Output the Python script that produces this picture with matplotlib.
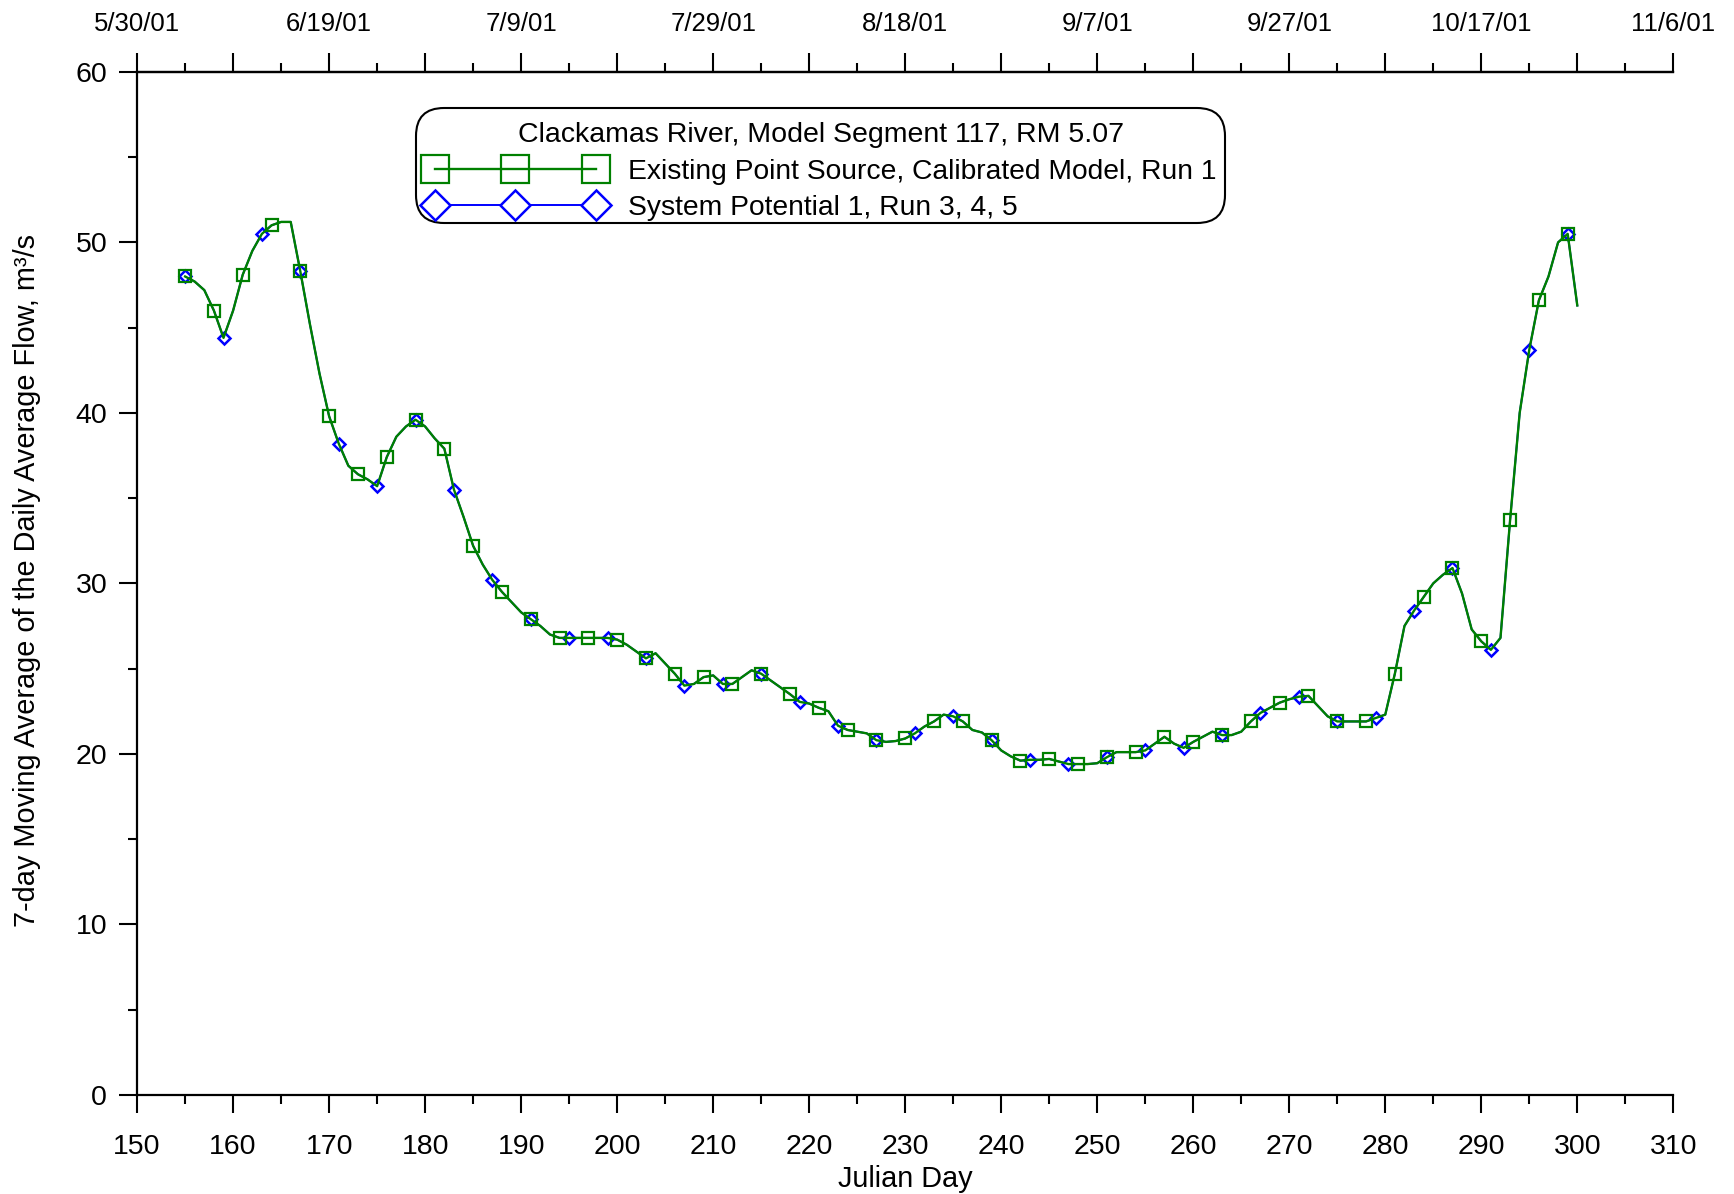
import matplotlib
matplotlib.use("Agg")
import matplotlib.pyplot as plt
from matplotlib.ticker import MultipleLocator, FixedLocator
from matplotlib.legend_handler import HandlerLine2D
from matplotlib.offsetbox import VPacker, HPacker, DrawingArea

plt.rcParams['font.family'] = ['Liberation Sans', 'DejaVu Sans']

# ---- data ----
julian_day = list(range(155, 301))

flow_existing = [
    48.0, 47.7, 47.2, 46.0, 44.4, 46.0, 48.1, 49.5, 50.5, 51.0,   # 155-164
    51.2, 51.2, 48.3, 45.2, 42.3, 39.8, 38.2, 36.9, 36.4, 36.1,   # 165-174
    35.7, 37.4, 38.6, 39.2, 39.6, 39.2, 38.5, 37.9, 35.5, 33.9,   # 175-184
    32.2, 31.1, 30.2, 29.5, 28.9, 28.3, 27.9, 27.5, 27.0, 26.8,   # 185-194
    26.8, 26.8, 26.8, 26.8, 26.8, 26.7, 26.4, 26.0, 25.6, 25.9,   # 195-204
    25.3, 24.7, 24.0, 24.1, 24.5, 24.6, 24.1, 24.1, 24.5, 24.9,   # 205-214
    24.7, 24.3, 23.9, 23.5, 23.05, 22.95, 22.7, 22.5, 21.65, 21.4,  # 215-224
    21.3, 21.2, 20.8, 20.7, 20.75, 20.9, 21.2, 21.6, 21.9, 22.3,  # 225-234
    22.2, 21.9, 21.4, 21.25, 20.8, 20.2, 19.85, 19.6, 19.65, 19.65,  # 235-244
    19.7, 19.55, 19.4, 19.4, 19.4, 19.45, 19.8, 20.1, 20.1, 20.1,  # 245-254
    20.2, 20.6, 21.0, 20.6, 20.35, 20.7, 21.0, 21.3, 21.1, 21.1,  # 255-264
    21.3, 21.9, 22.4, 22.7, 23.0, 23.2, 23.35, 23.4, 22.8, 22.2,  # 265-274
    21.9, 21.9, 21.9, 21.9, 22.1, 22.3, 24.7, 27.5, 28.4, 29.2,   # 275-284
    30.0, 30.5, 30.9, 29.4, 27.3, 26.6, 26.1, 26.8, 33.7, 40.0,   # 285-294
    43.7, 46.6, 48.0, 50.0, 50.5, 46.3,                           # 295-300
]

flow_system_potential = [
    48.0, 47.7, 47.2, 46.0, 44.4, 46.0, 48.1, 49.5, 50.5, 51.0,
    51.2, 51.2, 48.3, 45.2, 42.3, 39.8, 38.2, 36.9, 36.4, 36.1,
    35.7, 37.4, 38.6, 39.2, 39.6, 39.2, 38.5, 37.9, 35.5, 33.9,
    32.2, 31.1, 30.2, 29.5, 28.9, 28.3, 27.9, 27.5, 27.0, 26.8,
    26.8, 26.8, 26.8, 26.8, 26.8, 26.7, 26.4, 26.0, 25.6, 25.9,
    25.3, 24.7, 24.0, 24.1, 24.5, 24.6, 24.1, 24.1, 24.5, 24.9,
    24.7, 24.3, 23.9, 23.5, 23.05, 22.95, 22.7, 22.5, 21.65, 21.4,
    21.3, 21.2, 20.8, 20.7, 20.75, 20.9, 21.2, 21.6, 21.9, 22.3,
    22.2, 21.9, 21.4, 21.25, 20.8, 20.2, 19.85, 19.6, 19.65, 19.65,
    19.7, 19.55, 19.4, 19.4, 19.4, 19.45, 19.8, 20.1, 20.1, 20.1,
    20.2, 20.6, 21.0, 20.6, 20.35, 20.7, 21.0, 21.3, 21.1, 21.1,
    21.3, 21.9, 22.4, 22.7, 23.0, 23.2, 23.35, 23.4, 22.8, 22.2,
    21.9, 21.9, 21.9, 21.9, 22.1, 22.3, 24.7, 27.5, 28.4, 29.2,
    30.0, 30.5, 30.9, 29.4, 27.3, 26.6, 26.1, 26.8, 33.7, 40.0,
    43.7, 46.6, 48.0, 50.0, 50.5, 46.3,
]

top_tick_days = [150, 170, 190, 210, 230, 250, 270, 290, 310]
top_tick_labels = ['5/30/01', '6/19/01', '7/9/01', '7/29/01', '8/18/01',
                   '9/7/01', '9/27/01', '10/17/01', '11/6/01']

legend_title = 'Clackamas River, Model Segment 117, RM 5.07'
label_existing = 'Existing Point Source, Calibrated Model, Run 1'
label_sp = 'System Potential 1, Run 3, 4, 5'

# ---- figure ----
fig = plt.figure(figsize=(17.34, 11.94), dpi=100)
L, R, B, T = 137.1 / 1734, 1673.3 / 1734, 1 - 1094.8 / 1194, 1 - 71.9 / 1194
ax = fig.add_axes([L, B, R - L, T - B])

GREEN = '#008000'
BLUE = '#0000FF'

line_sp, = ax.plot(julian_day, flow_system_potential, color=BLUE, lw=1.4,
                   marker='D', markersize=6.5, markevery=4, mfc='white', mec=BLUE,
                   mew=1.8, label=label_sp, zorder=2)
line_ex, = ax.plot(julian_day, flow_existing, color=GREEN, lw=1.7,
                   marker='s', markersize=9, markevery=3, mfc='none', mec=GREEN,
                   mew=1.6, label=label_existing, zorder=3)

ax.set_xlim(150, 310)
ax.set_ylim(0, 60)

ax.spines['right'].set_visible(False)
for s in ['left', 'bottom', 'top']:
    ax.spines[s].set_linewidth(1.6)

ax.xaxis.set_major_locator(MultipleLocator(10))
ax.xaxis.set_minor_locator(MultipleLocator(5))
ax.yaxis.set_major_locator(MultipleLocator(10))
ax.yaxis.set_minor_locator(MultipleLocator(5))
ax.tick_params(axis='both', which='major', direction='out', length=13,
               width=1.5, labelsize=20.5)
ax.tick_params(axis='both', which='minor', direction='out', length=6.5,
               width=1.5)
ax.tick_params(axis='x', which='both', top=False, bottom=True)
ax.tick_params(axis='y', which='both', right=False, left=True)
ax.tick_params(axis='x', which='major', pad=15)
ax.tick_params(axis='y', which='major', pad=8.5)

# top date axis
sec = ax.secondary_xaxis('top')
sec.spines['top'].set_linewidth(1.6)
major_top = list(range(150, 311, 10))
sec.xaxis.set_major_locator(FixedLocator(major_top))
sec.set_xticklabels([top_tick_labels[top_tick_days.index(d)] if d in top_tick_days else ''
                     for d in major_top])
sec.xaxis.set_minor_locator(MultipleLocator(5))
sec.tick_params(axis='x', which='major', direction='out', length=14,
                width=1.5, labelsize=18.5, pad=11.5)
sec.tick_params(axis='x', which='minor', direction='out', length=6.5, width=1.5)

ax.set_xlabel('Julian Day', fontsize=20.8)
ax.xaxis.set_label_coords(0.5, -0.069)
ax.xaxis.label.set_va('top')
ax.set_ylabel('7-day Moving Average of the Daily Average Flow, m\u00b3/s', fontsize=20.8)
ax.yaxis.set_label_coords(-0.0625, 0.503)

leg = ax.legend([line_ex, line_sp], [label_existing, label_sp], title=legend_title,
                loc='upper left', bbox_to_anchor=(0.1816, 0.9647),
                borderaxespad=0, fontsize=20.3, title_fontsize=20.5,
                numpoints=3, markerscale=2.3, handlelength=6.9,
                handletextpad=0.54, borderpad=0.07, labelspacing=0.37,
                handler_map={line_ex: HandlerLine2D(marker_pad=0.6),
                             line_sp: HandlerLine2D(marker_pad=0.6)},
                frameon=True, fancybox=True, framealpha=1, edgecolor='black')
leg.get_frame().set_linewidth(1.5)
leg.get_frame().set_boxstyle('round', pad=0, rounding_size=1.0)

# extra space above the legend title and to the right of the entries
try:
    title_box = leg._legend_box._children[0]
    entries_box = leg._legend_box._children[1]
    leg._legend_box._children[0] = VPacker(pad=0, sep=0, align='center',
                                           children=[DrawingArea(1, 9), title_box])
    leg._legend_box._children[1] = HPacker(pad=0, sep=0, align='top',
                                           children=[entries_box, DrawingArea(5, 1)])
except Exception:
    pass

fig.savefig('out.png', dpi=100, facecolor='white')
